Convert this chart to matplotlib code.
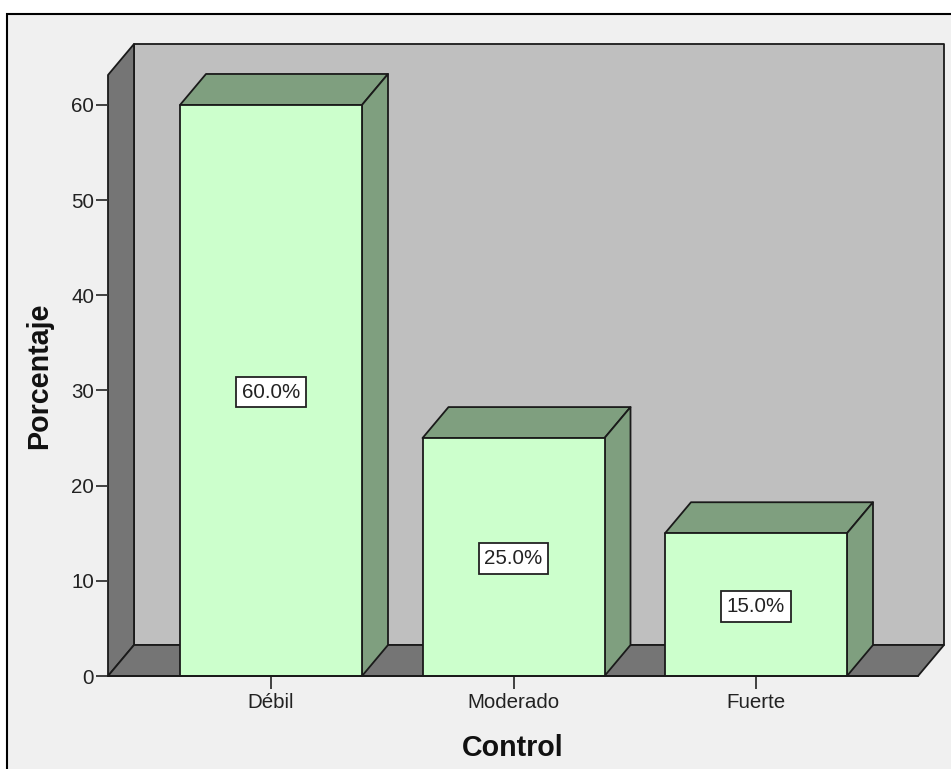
import matplotlib
matplotlib.use("Agg")
import matplotlib.pyplot as plt
from matplotlib.patches import Polygon, Rectangle

plt.rcParams['font.family'] = ['Liberation Sans', 'DejaVu Sans']

# Datos
categorias = ["Débil", "Moderado", "Fuerte"]
porcentajes = [60.0, 25.0, 15.0]
etiquetas = ["60.0%", "25.0%", "15.0%"]
ticks_y = [0, 10, 20, 30, 40, 50, 60]

W, H = 951, 769
PX_X = 242.5  # pixeles por categoria
PX_Y = 9.517  # pixeles por unidad
DX = 26 / PX_X  # profundidad
DY = 31 / PX_Y
ANCHO = 182 / PX_X
LW = 1.3
NEGRO = "#1a1a1a"

fig = plt.figure(figsize=(W / 100, H / 100), dpi=100, facecolor="white")

# Marco exterior (sin borde derecho ni inferior, se salen de la imagen)
fondo = Rectangle((6.5 / W, -0.01), 1, 1 - 13.5 / H + 0.01, transform=fig.transFigure,
                  facecolor="#f0f0f0", edgecolor="black", linewidth=1.5, zorder=-1)
fig.add_artist(fondo)

ax = fig.add_axes([108 / W, (H - 676) / H, 810 / W, 601 / H])
ax.patch.set_visible(False)
x_min = (108 - 271) / PX_X
x_max = (918 - 271) / PX_X
y_max = 601 / PX_Y
ax.set_xlim(x_min, x_max)
ax.set_ylim(0, y_max)


def cara(puntos, color, z):
    ax.add_patch(Polygon(puntos, closed=True, facecolor=color, edgecolor=NEGRO,
                         linewidth=LW, joinstyle="round", clip_on=False, zorder=z))


# Paredes y piso
cara([(x_min + DX, DY), (x_max + DX, DY), (x_max + DX, y_max + DY), (x_min + DX, y_max + DY)], "#bfbfbf", 1)
cara([(x_min, 0), (x_min + DX, DY), (x_min + DX, y_max + DY), (x_min, y_max)], "#757575", 1)
cara([(x_min, 0), (x_max, 0), (x_max + DX, DY), (x_min + DX, DY)], "#757575", 1)

# Barras
for i, v in enumerate(porcentajes):
    x0 = i - ANCHO / 2
    x1 = i + ANCHO / 2
    cara([(x0, v), (x1, v), (x1 + DX, v + DY), (x0 + DX, v + DY)], "#7f9f7f", 3)
    cara([(x1, 0), (x1 + DX, DY), (x1 + DX, v + DY), (x1, v)], "#7f9f7f", 3)
    cara([(x0, 0), (x1, 0), (x1, v), (x0, v)], "#ccffcc", 4)
    ax.annotate(etiquetas[i], (i, v / 2), xytext=(0, -1.2), textcoords="offset points",
                ha="center", va="center", fontsize=14.8, color="#222222", zorder=5,
                bbox=dict(boxstyle="square,pad=0.28", facecolor="white", edgecolor="#222222", linewidth=1.3))

for lado in ["top", "right", "left"]:
    ax.spines[lado].set_visible(False)
ax.spines["bottom"].set_zorder(6)
ax.spines["bottom"].set_color(NEGRO)
ax.spines["bottom"].set_linewidth(LW)

ax.set_xticks(range(len(categorias)), categorias)
ax.set_yticks(ticks_y)
ax.tick_params(axis="x", length=9, width=1.3, color="#333333", pad=3, labelsize=14.8, labelcolor="#222222")
ax.tick_params(axis="y", length=9, width=1.3, color="#333333", pad=1, labelsize=14.8, labelcolor="#222222")

fig.text(39 / W, 1 - 376 / H, "Porcentaje", rotation=90, ha="center", va="center",
         fontsize=20.6, fontweight="bold", color="#111111")
fig.text(513 / W, 1 - 748 / H, "Control", ha="center", va="center",
         fontsize=20.6, fontweight="bold", color="#111111")

fig.savefig("out.png", dpi=100, facecolor=fig.get_facecolor())
